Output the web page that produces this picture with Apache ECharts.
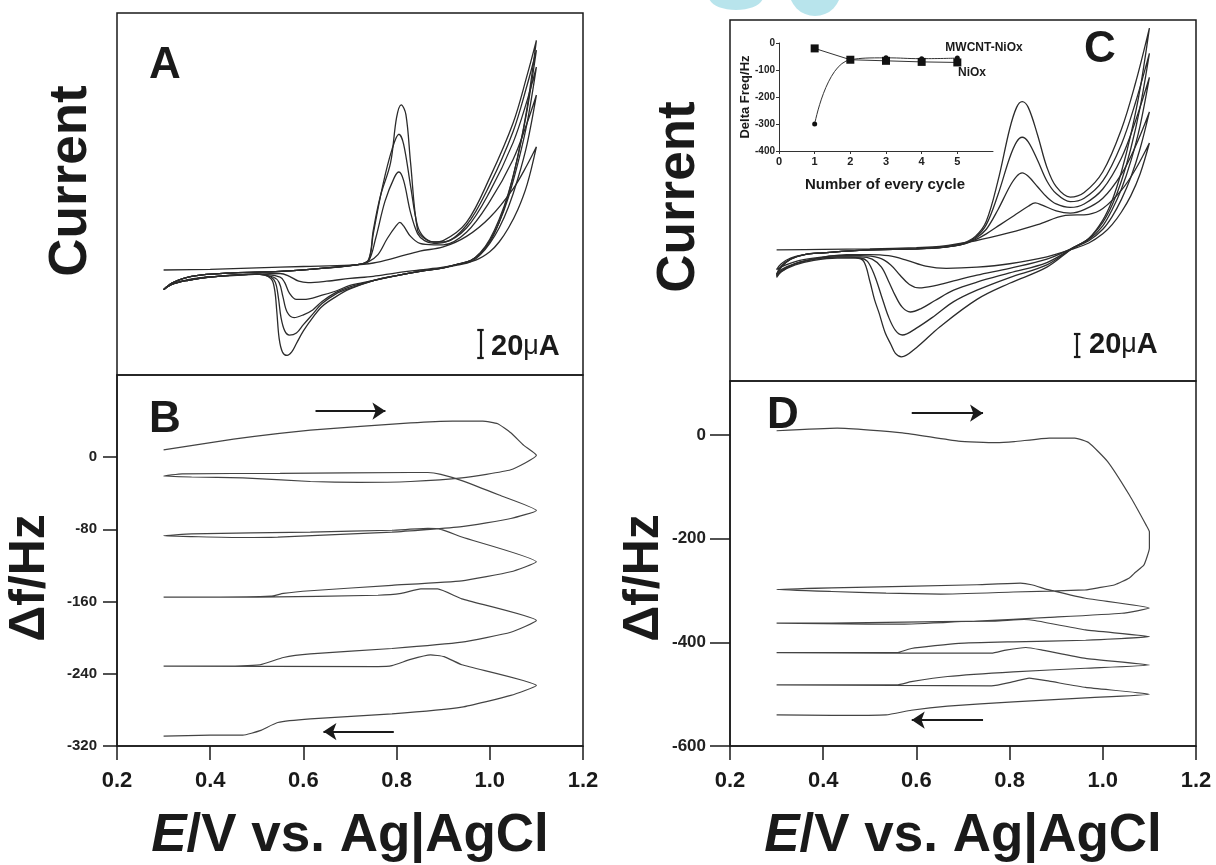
<!DOCTYPE html>
<html>
<head>
<meta charset="utf-8">
<script src="https://cdn.jsdelivr.net/npm/echarts@6/dist/echarts.min.js"></script>
<style>
html,body{margin:0;padding:0;background:#fff;}
#chart{width:1216px;height:865px;}
</style>
</head>
<body>
<div id="chart"></div>
<script>
// ---------- Data ----------
// Potential tick labels (V vs Ag|AgCl)
const E_TICKS = [0.2, 0.4, 0.6, 0.8, 1.0, 1.2];
const B_TICKS = [0, -80, -160, -240, -320];
const D_TICKS = [0, -200, -400, -600];

// Panel A: CVs of NiOx film, cycles 1..5  [E (V), I (uA)]
const A_cycle1 = [[0.30,0],[0.40,0.5],[0.50,1.5],[0.60,2.5],[0.70,3.5],[0.75,5],[0.80,9],[0.85,13.5],[0.90,16.5],[0.95,24],[1.00,37.5],[1.05,58],[1.08,75],[1.10,88],
  [1.08,61],[1.06,43],[1.04,30],[1.02,20],[1.00,13],[0.97,7],[0.93,4],[0.90,2],[0.85,0],[0.80,-2],[0.75,-4.5],[0.70,-6],[0.65,-8],[0.61,-9],[0.59,-8],[0.57,-4.5],[0.55,-2.5],[0.50,-3],[0.40,-5],[0.35,-7],[0.32,-10],[0.30,-14]];
const A_cycle2 = [[0.30,-14],[0.32,-9],[0.36,-4.5],[0.45,-2],[0.55,-1],[0.65,1.5],[0.72,4],[0.74,6],[0.76,11],[0.78,22.5],[0.80,32],[0.807,34],[0.815,31.5],[0.83,24],[0.85,19],[0.88,18],[0.90,18],[0.95,27],[1.00,49],[1.05,79],[1.08,105],[1.10,125],
  [1.08,90],[1.06,65],[1.04,45],[1.02,30],[1.00,19],[0.98,11],[0.96,6],[0.93,3.5],[0.90,1.5],[0.85,-1],[0.80,-4],[0.75,-7.5],[0.70,-11],[0.67,-15],[0.64,-18],[0.60,-21],[0.585,-21],[0.57,-16.5],[0.56,-9],[0.55,-5],[0.50,-3],[0.40,-5],[0.35,-7.5],[0.32,-10],[0.30,-14]];
const A_cycle3 = [[0.30,-14],[0.32,-9],[0.36,-4.5],[0.45,-2],[0.55,-1],[0.65,1.5],[0.72,4],[0.74,6.5],[0.755,22.5],[0.775,49],[0.795,66],[0.805,70],[0.815,64],[0.83,41],[0.845,26],[0.86,21],[0.88,19],[0.90,19.5],[0.95,30],[1.00,56],[1.05,91],[1.08,121],[1.10,145],
  [1.08,105],[1.06,76],[1.04,52],[1.02,34],[1.00,21],[0.98,12],[0.96,7],[0.93,4],[0.90,1.5],[0.85,-1],[0.80,-4],[0.75,-7.5],[0.70,-12],[0.67,-16],[0.64,-22.5],[0.62,-28.5],[0.60,-32],[0.58,-34],[0.565,-30],[0.556,-19],[0.548,-9],[0.535,-5],[0.50,-3],[0.40,-5],[0.35,-7.5],[0.32,-10],[0.30,-14]];
const A_cycle4 = [[0.30,-14],[0.32,-9],[0.36,-4.5],[0.45,-2],[0.55,-1],[0.65,1.5],[0.72,4],[0.74,7],[0.75,26],[0.77,60],[0.79,86],[0.805,97],[0.815,90],[0.83,60],[0.845,31.5],[0.86,23],[0.88,20],[0.90,20],[0.95,32],[1.00,61],[1.05,99],[1.08,132],[1.10,157],
  [1.08,114],[1.06,81],[1.04,55],[1.02,36],[1.00,22],[0.98,12.5],[0.96,7],[0.93,4],[0.90,1.5],[0.85,-1],[0.80,-4],[0.75,-7.5],[0.70,-13],[0.67,-17],[0.64,-24],[0.62,-31.5],[0.60,-39],[0.585,-45],[0.57,-46.5],[0.56,-43.5],[0.552,-34],[0.546,-19],[0.54,-9],[0.53,-5],[0.50,-3],[0.40,-5],[0.35,-7.5],[0.32,-10],[0.30,-14]];
const A_cycle5 = [[0.30,-14],[0.32,-9],[0.36,-4.5],[0.45,-2],[0.55,-1],[0.65,1.5],[0.72,4],[0.74,7.5],[0.75,28.5],[0.765,52.5],[0.787,76.5],[0.80,109],[0.81,118],[0.82,111],[0.83,76.5],[0.845,28.5],[0.86,22.5],[0.88,20],[0.90,21],[0.95,34],[1.00,66],[1.05,105],[1.08,139],[1.10,164],
  [1.08,116],[1.06,81],[1.04,54],[1.02,34],[1.00,20],[0.98,12],[0.96,7],[0.93,4],[0.90,1.5],[0.85,-1],[0.80,-4],[0.75,-7.5],[0.70,-13.5],[0.67,-19],[0.64,-26],[0.62,-34],[0.60,-43.5],[0.585,-52.5],[0.575,-58.5],[0.565,-61],[0.555,-58.5],[0.548,-49],[0.543,-30],[0.538,-13.5],[0.53,-6],[0.50,-3],[0.40,-5],[0.35,-7.5],[0.32,-10],[0.30,-14]];

// Panel C: CVs of MWCNT-NiOx film, cycles 1..5  [E (V), I (uA)]
const C_cycle1 = [[0.30,0],[0.40,0.5],[0.50,1],[0.60,2],[0.65,3],[0.727,8],[0.80,15],[0.86,22],[0.92,30],[0.97,31],[1.00,36],[1.04,52],[1.07,70],[1.10,93],
  [1.08,66],[1.06,47],[1.04,33],[1.02,22],[1.00,14],[0.97,6],[0.937,1],[0.88,-6],[0.80,-12],[0.73,-15],[0.664,-16],[0.62,-14],[0.58,-9],[0.54,-5],[0.50,-4],[0.45,-4],[0.40,-6],[0.35,-9],[0.32,-13],[0.30,-17]];
const C_cycle2 = [[0.30,-17],[0.31,-12],[0.33,-7],[0.36,-4],[0.40,-2.5],[0.45,-1],[0.50,0],[0.60,1],[0.65,2],[0.70,5],[0.727,9],[0.75,14],[0.78,22],[0.81,30],[0.84,38],[0.855,41],[0.87,39],[0.90,34],[0.93,32],[0.96,35],[1.00,45],[1.04,66],[1.07,90],[1.10,120],
  [1.08,88],[1.06,63],[1.04,44],[1.02,29],[1.00,18],[0.97,8],[0.937,2],[0.88,-8],[0.80,-16],[0.73,-22],[0.68,-27],[0.64,-31],[0.606,-33],[0.585,-30],[0.565,-22],[0.545,-13],[0.52,-7],[0.48,-5],[0.43,-5],[0.38,-8],[0.34,-12],[0.31,-17],[0.30,-21]];
const C_cycle3 = [[0.30,-21],[0.31,-14],[0.33,-8],[0.36,-4],[0.40,-2.5],[0.45,-1],[0.50,0],[0.60,1],[0.65,2],[0.70,5],[0.727,10],[0.75,18],[0.775,35],[0.80,55],[0.815,64],[0.827,67],[0.84,64],[0.86,55],[0.88,46],[0.90,40],[0.93,37],[0.96,40],[1.00,53],[1.04,80],[1.07,112],[1.10,150],
  [1.08,108],[1.06,77],[1.04,53],[1.02,35],[1.00,21],[0.97,9],[0.937,2],[0.88,-11],[0.80,-20],[0.73,-28],[0.68,-35],[0.64,-44],[0.61,-51],[0.587,-54],[0.57,-50],[0.555,-40],[0.54,-27],[0.525,-15],[0.505,-8],[0.48,-6],[0.43,-6],[0.38,-8],[0.34,-12],[0.31,-18],[0.30,-22]];
const C_cycle4 = [[0.30,-22],[0.31,-15],[0.33,-8],[0.36,-4],[0.40,-2.5],[0.45,-1],[0.50,0],[0.60,1],[0.65,2],[0.70,5],[0.727,11],[0.75,22],[0.775,48],[0.80,80],[0.815,94],[0.827,98],[0.84,94],[0.86,78],[0.88,60],[0.90,49],[0.93,42],[0.96,45],[1.00,60],[1.04,92],[1.07,128],[1.10,171],
  [1.08,124],[1.06,88],[1.04,60],[1.02,39],[1.00,24],[0.97,10],[0.937,2],[0.88,-13],[0.80,-24],[0.73,-35],[0.68,-45],[0.64,-57],[0.60,-68],[0.57,-74],[0.555,-70],[0.54,-58],[0.525,-40],[0.51,-22],[0.495,-10],[0.48,-7],[0.43,-6],[0.38,-8],[0.34,-12],[0.31,-19],[0.30,-23]];
const C_cycle5 = [[0.30,-23],[0.31,-15],[0.33,-8],[0.36,-4],[0.40,-2.5],[0.45,-1],[0.50,0],[0.60,1],[0.65,2],[0.70,6],[0.727,12],[0.75,25],[0.775,60],[0.80,105],[0.815,124],[0.827,129],[0.84,124],[0.86,100],[0.88,72],[0.90,55],[0.93,46],[0.96,50],[1.00,68],[1.04,105],[1.07,145],[1.10,193],
  [1.08,140],[1.06,100],[1.04,68],[1.02,43],[1.00,26],[0.97,10],[0.937,2],[0.88,-15],[0.80,-29],[0.73,-43],[0.65,-67],[0.60,-85],[0.568,-93],[0.555,-90],[0.545,-82],[0.533,-72],[0.52,-55],[0.51,-43],[0.50,-27],[0.487,-10],[0.47,-7],[0.43,-7],[0.38,-9],[0.34,-13],[0.31,-19],[0.30,-24]];

// Panel B: EQCM frequency change, NiOx  [E (V), delta f (Hz)]
const B_trace = [
  [0.30,8],[0.45,20],[0.615,30],[0.83,38],[0.92,40],[0.985,40],[1.017,37],[1.045,27],[1.073,13],[1.10,2],
  [1.045,-14],[0.94,-23],[0.83,-27],[0.72,-28],[0.615,-27],[0.47,-23],[0.36,-22],[0.30,-21],
  [0.34,-18.5],[0.55,-18],[0.83,-17],[0.867,-17],[0.895,-19],[0.94,-26],[1.02,-42],[1.10,-59],
  [1.045,-68],[0.94,-77],[0.79,-83],[0.545,-88.5],[0.47,-89],[0.30,-87],
  [0.36,-85],[0.615,-83],[0.79,-81],[0.867,-79],[0.895,-80],[0.94,-88.5],[1.10,-116],
  [1.045,-127],[0.94,-137],[0.79,-142],[0.615,-148],[0.557,-151],[0.53,-154],[0.40,-155],[0.30,-155],
  [0.50,-155],[0.76,-153],[0.81,-151],[0.852,-146],[0.888,-146],[0.94,-157],[1.10,-181],
  [1.045,-194],[0.94,-205],[0.79,-212],[0.615,-218],[0.557,-222],[0.507,-230],[0.40,-231.5],[0.30,-231.5],
  [0.76,-232],[0.79,-231],[0.83,-224],[0.873,-219],[0.902,-221],[0.94,-230],[1.10,-253],
  [1.045,-264],[0.94,-277],[0.79,-284.5],[0.615,-290],[0.545,-294],[0.507,-303],[0.47,-308],[0.40,-308],[0.30,-309]
];

// Panel D: EQCM frequency change, MWCNT-NiOx  [E (V), delta f (Hz)]
const D_trace = [
  [0.30,8],[0.43,13],[0.57,4],[0.69,-12],[0.77,-15],[0.81,-13],[0.885,-6],[0.94,-6],[0.97,-15],[1.01,-51],[1.057,-116],[1.093,-174],[1.10,-187],[1.10,-218],[1.095,-235],[1.088,-251],[1.07,-265],[1.057,-276],[1.026,-289],[0.99,-295],[0.963,-299],[0.808,-303],[0.652,-307],[0.535,-305],[0.418,-302],[0.30,-298],
  [0.418,-295],[0.73,-289],[0.823,-286],[0.847,-289],[0.885,-299],[0.963,-315],[1.10,-334],
  [1.041,-344],[0.885,-352],[0.73,-359],[0.574,-365],[0.496,-365],[0.30,-363],
  [0.418,-363],[0.652,-360],[0.769,-359],[0.831,-356],[0.854,-358],[0.963,-376],[1.10,-389],
  [0.963,-396],[0.808,-399],[0.691,-402],[0.589,-412],[0.558,-420],[0.418,-420],[0.30,-420],
  [0.535,-421],[0.761,-421],[0.792,-415],[0.835,-410],[0.87,-415],[0.963,-431],[1.10,-444],
  [0.963,-450],[0.808,-457],[0.667,-466],[0.589,-476],[0.558,-482],[0.418,-482],[0.30,-482],
  [0.55,-483],[0.761,-484],[0.808,-476],[0.842,-469],[0.885,-475],[0.963,-487],[1.10,-500],
  [0.963,-507],[0.808,-515],[0.667,-523],[0.589,-531],[0.535,-540],[0.418,-541],[0.30,-540]
];

// Inset (panel C): frequency change per cycle
const INSET_CYCLES = [1, 2, 3, 4, 5];
const INSET_X_LABELS = [0, 1, 2, 3, 4, 5];
const INSET_Y_TICKS = [0, -100, -200, -300, -400];
const INSET_MWCNT = [-300, -62, -55, -58, -56];
const INSET_NIOX = [-20, -62, -66, -70, -72];

// Annotations: scale bars (20 uA) and scan direction arrows
const SCALE_UA = 20;
const A_BAR = {E: 0.98, low: -63};
const C_BAR = {E: 0.945, low: -93};
const B_ARROWS = [[[0.626, 51], [0.776, 51]], [[0.794, -304], [0.643, -304]]];
const D_ARROWS = [[[0.59, 42], [0.743, 42]], [[0.743, -550], [0.59, -550]]];

// ---------- Chart ----------
const FONT = '"Liberation Sans", Arial, Helvetica, sans-serif';
const INK = '#1a1a1a';
const chart = echarts.init(document.getElementById('chart'), null, {renderer: 'canvas'});

function hiddenX(g) { return {gridIndex: g, type: 'value', min: 0.2, max: 1.2, show: false}; }
function hiddenY(g, mn, mx) { return {gridIndex: g, type: 'value', min: mn, max: mx, show: false}; }
function eAxis(g) {
  return {
    gridIndex: g, type: 'value', min: 0.2, max: 1.2, interval: 0.2,
    axisLine: {show: true, onZero: false, lineStyle: {color: INK, width: 1.5}},
    axisTick: {show: true, length: 14, customValues: E_TICKS, lineStyle: {color: INK, width: 1.5}},
    axisLabel: {show: true, customValues: E_TICKS, margin: 24, fontSize: 22, fontWeight: 'bold', fontFamily: FONT, color: INK,
      formatter: v => Number(v).toFixed(1)},
    splitLine: {show: false}
  };
}
function fAxis(g, mn, mx, ticks, fs, tlen, margin) {
  return {
    gridIndex: g, type: 'value', min: mn, max: mx,
    axisLine: {show: true, onZero: false, lineStyle: {color: INK, width: 1.5}},
    axisTick: {show: true, length: tlen, customValues: ticks, lineStyle: {color: INK, width: 1.5}},
    axisLabel: {show: true, customValues: ticks, margin: margin, fontSize: fs, fontWeight: 'bold', fontFamily: FONT, color: '#222'},
    splitLine: {show: false}
  };
}
function cv(name, g, data) {
  return {name: name, type: 'line', xAxisIndex: g, yAxisIndex: g, data: data, showSymbol: false,
    smooth: 0.35, lineStyle: {color: '#2b2b2b', width: 1.3}, silent: true, animation: false};
}
function qcm(name, g, data) {
  return {name: name, type: 'line', xAxisIndex: g, yAxisIndex: g, data: data, showSymbol: false,
    smooth: 0.15, lineStyle: {color: '#444', width: 1.2}, silent: true, animation: false};
}
function scaleBar(g, bar) {
  const hi = bar.low + SCALE_UA, w = 0.007;
  return {type: 'lines', coordinateSystem: 'cartesian2d', xAxisIndex: g, yAxisIndex: g, silent: true,
    lineStyle: {color: INK, width: 2.2, opacity: 1},
    data: [
      {coords: [[bar.E, bar.low], [bar.E, hi]]},
      {coords: [[bar.E - w, bar.low], [bar.E + w, bar.low]]},
      {coords: [[bar.E - w, hi], [bar.E + w, hi]]}
    ]};
}
function arrows(g, list) {
  return {type: 'lines', coordinateSystem: 'cartesian2d', xAxisIndex: g, yAxisIndex: g, silent: true,
    symbol: ['none', 'arrow'], symbolSize: 13,
    lineStyle: {color: INK, width: 2, opacity: 1},
    data: list.map(c => ({coords: c}))};
}
function txt(x, y, text, size, opts) {
  opts = opts || {};
  return {type: 'text', x: x, y: y, rotation: opts.rot || 0, silent: true, z: 100,
    style: Object.assign({text: text, font: (opts.weight || 'bold') + ' ' + size + 'px ' + FONT, fill: opts.fill || INK,
      align: opts.align || 'center', verticalAlign: 'middle'}, opts.style || {})};
}
const TITLE_RICH = {rich: {i: {fontStyle: 'italic', fontWeight: 'bold', fontSize: 53, fontFamily: FONT, fill: INK}}};
const UA_RICH = {rich: {m: {fontWeight: 'normal', fontSize: 27, fontFamily: FONT, fill: INK}}};

const option = {
  animation: false,
  backgroundColor: '#fff',
  grid: [
    {left: 117, top: 13, width: 466, height: 362, show: true, borderColor: INK, borderWidth: 1.5},
    {left: 117, top: 375, width: 466, height: 371, show: true, borderColor: INK, borderWidth: 1.5},
    {left: 730, top: 20, width: 466, height: 361, show: true, borderColor: INK, borderWidth: 1.5},
    {left: 730, top: 381, width: 466, height: 365, show: true, borderColor: INK, borderWidth: 1.5},
    {left: 779, top: 43, width: 214, height: 108, show: false}
  ],
  xAxis: [
    hiddenX(0), eAxis(1), hiddenX(2), eAxis(3),
    {gridIndex: 4, type: 'value', min: 0, max: 6, interval: 1,
      axisLine: {show: true, onZero: false, lineStyle: {color: '#333', width: 1}},
      axisTick: {show: true, length: 3, customValues: INSET_X_LABELS, lineStyle: {color: '#333'}},
      axisLabel: {customValues: INSET_X_LABELS, margin: 5, fontSize: 11, fontWeight: 'bold', fontFamily: FONT, color: '#222'},
      splitLine: {show: false}}
  ],
  yAxis: [
    hiddenY(0, -75, 183.6),
    fAxis(1, -320, 91, B_TICKS, 15, 14, 20),
    hiddenY(2, -114, 200),
    fAxis(3, -600, 104, D_TICKS, 17, 20, 24),
    {gridIndex: 4, type: 'value', min: -400, max: 0, interval: 100,
      axisLine: {show: true, onZero: false, lineStyle: {color: '#333', width: 1}},
      axisTick: {show: true, length: 3, lineStyle: {color: '#333'}},
      axisLabel: {customValues: INSET_Y_TICKS, margin: 4, fontSize: 10, fontWeight: 'bold', fontFamily: FONT, color: '#222'},
      splitLine: {show: false}}
  ],
  series: [
    cv('A1', 0, A_cycle1), cv('A2', 0, A_cycle2), cv('A3', 0, A_cycle3), cv('A4', 0, A_cycle4), cv('A5', 0, A_cycle5),
    cv('C1', 2, C_cycle1), cv('C2', 2, C_cycle2), cv('C3', 2, C_cycle3), cv('C4', 2, C_cycle4), cv('C5', 2, C_cycle5),
    qcm('B', 1, B_trace), qcm('D', 3, D_trace),
    scaleBar(0, A_BAR), scaleBar(2, C_BAR),
    arrows(1, B_ARROWS), arrows(3, D_ARROWS),
    {name: 'MWCNT-NiOx', type: 'line', xAxisIndex: 4, yAxisIndex: 4, smooth: 0.5,
      data: INSET_CYCLES.map((c, i) => [c, INSET_MWCNT[i]]),
      symbol: 'circle', symbolSize: 5, itemStyle: {color: '#111'}, lineStyle: {color: '#333', width: 1}},
    {name: 'NiOx', type: 'line', xAxisIndex: 4, yAxisIndex: 4,
      data: INSET_CYCLES.map((c, i) => [c, INSET_NIOX[i]]),
      symbol: 'rect', symbolSize: 8, itemStyle: {color: '#111'}, lineStyle: {color: '#333', width: 1}}
  ],
  graphic: [
    // faint watermark fragment at the top edge
    {type: 'ellipse', silent: true, z: 0, shape: {cx: 736, cy: -3, rx: 27, ry: 13}, style: {fill: '#b8e4ec'}},
    {type: 'circle', silent: true, z: 0, shape: {cx: 815, cy: -10, r: 26}, style: {fill: '#b8e4ec'}},
    txt(71, 181, 'Current', 53, {rot: Math.PI / 2}),
    txt(679, 197, 'Current', 53, {rot: Math.PI / 2}),
    txt(30, 578, 'Δf/Hz', 50, {rot: Math.PI / 2}),
    txt(644, 578, 'Δf/Hz', 50, {rot: Math.PI / 2}),
    txt(350, 836, '{i|E}/V vs. Ag|AgCl', 53, {style: TITLE_RICH}),
    txt(963, 836, '{i|E}/V vs. Ag|AgCl', 53, {style: TITLE_RICH}),
    txt(165, 66, 'A', 44),
    txt(165, 420, 'B', 44),
    txt(1100, 50, 'C', 44),
    txt(783, 416, 'D', 44),
    txt(491, 347, '20{m|μ}A', 29, {align: 'left', style: UA_RICH}),
    txt(1089, 345, '20{m|μ}A', 29, {align: 'left', style: UA_RICH}),
    txt(984, 48, 'MWCNT-NiOx', 12),
    txt(972, 73, 'NiOx', 12),
    txt(745, 97, 'Delta Freq/Hz', 13, {rot: Math.PI / 2}),
    txt(885, 185, 'Number of every cycle', 15)
  ]
};
chart.setOption(option);
</script>
</body>
</html>
